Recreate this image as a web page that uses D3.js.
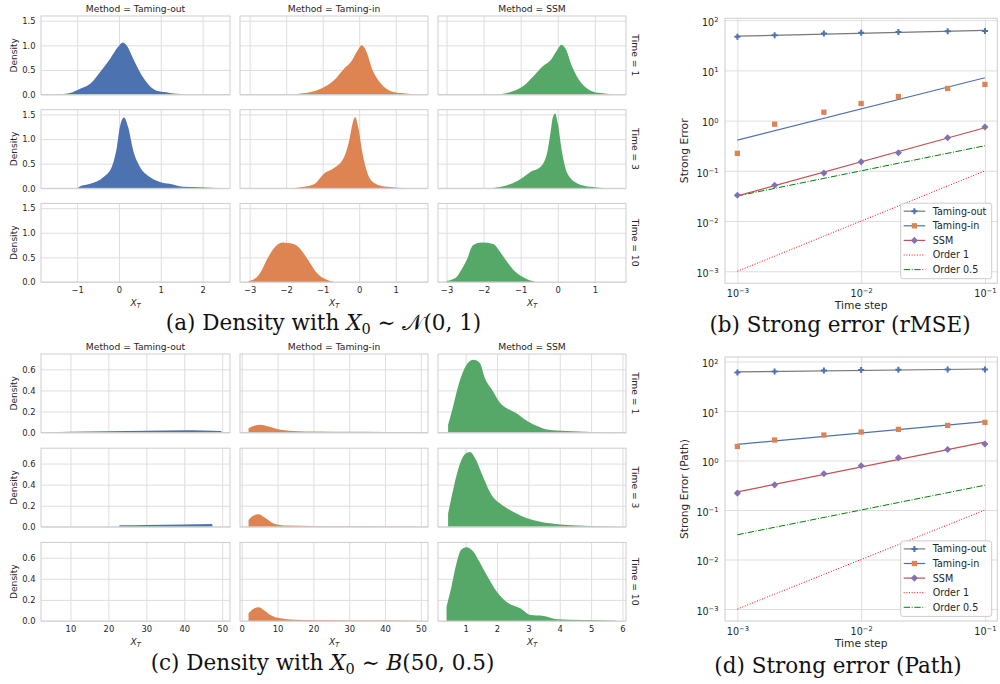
<!DOCTYPE html>
<html>
<head>
<meta charset="utf-8">
<script src="https://cdn.jsdelivr.net/npm/d3@7"></script>
<style>
  body { margin: 0; background: #fff; }
  svg { display: block; }
</style>
</head>
<body>
<svg id="fig" width="1000" height="684"></svg>
<script>
// ---------------------------------------------------------------------------
// Facet labels
const methods = ["Taming-out", "Taming-in", "SSM"];
const times = [1, 3, 10];
const methodColors = ["#4c72b0", "#dd8452", "#55a868"];

// Density of X_T with X_0 ~ N(0,1): [x, density] pairs per method and time
const normOutT1 = [[-1.66,0],[-1.4,0.01],[-1.17,0.035],[-0.93,0.12],[-0.69,0.22],[-0.45,0.46],[-0.21,0.73],[-0.02,0.97],[0.09,1.06],[0.18,1.0],[0.34,0.73],[0.5,0.46],[0.66,0.25],[0.9,0.08],[1.13,0.05],[1.37,0.015],[1.81,0]];
const normOutT3 = [[-0.98,0],[-0.95,0.03],[-0.69,0.09],[-0.37,0.23],[-0.17,0.44],[-0.05,0.84],[0.02,1.24],[0.12,1.44],[0.22,1.24],[0.34,0.77],[0.5,0.44],[0.74,0.23],[0.98,0.13],[1.21,0.09],[1.53,0.03],[1.93,0.02],[2.45,0]];
const normOutT10 = [];
const normInT1 = [[-1.8,0],[-1.6,0.02],[-1.05,0.12],[-0.69,0.29],[-0.41,0.53],[-0.23,0.66],[-0.04,0.9],[0.07,1.0],[0.18,0.9],[0.37,0.49],[0.6,0.22],[0.87,0.07],[1.15,0.03],[1.65,0]];
const normInT3 = [[-1.83,0],[-1.6,0.02],[-1.24,0.08],[-0.96,0.3],[-0.69,0.41],[-0.41,0.64],[-0.27,0.98],[-0.18,1.32],[-0.11,1.45],[-0.03,1.25],[0.09,0.71],[0.23,0.3],[0.41,0.11],[0.78,0.03],[1.33,0]];
const normInT10 = [[-3.03,0.02],[-2.85,0.07],[-2.7,0.2],[-2.55,0.42],[-2.4,0.62],[-2.25,0.75],[-2.1,0.8],[-1.95,0.79],[-1.8,0.77],[-1.65,0.7],[-1.5,0.56],[-1.35,0.39],[-1.2,0.22],[-1.05,0.11],[-0.9,0.05],[-0.7,0]];
const normSsmT1 = [[-1.74,0],[-1.29,0.05],[-0.92,0.18],[-0.65,0.38],[-0.38,0.59],[-0.2,0.69],[-0.02,0.9],[0.1,1.01],[0.21,0.93],[0.39,0.56],[0.62,0.25],[0.89,0.08],[1.16,0.03],[1.61,0]];
const normSsmT3 = [[-1.78,0],[-1.29,0.08],[-0.92,0.23],[-0.74,0.33],[-0.47,0.43],[-0.29,0.71],[-0.2,1.11],[-0.13,1.45],[-0.07,1.52],[0.0,1.32],[0.12,0.71],[0.26,0.3],[0.53,0.1],[0.89,0.03],[1.34,0]];
const normSsmT10 = [[-3.0,0.02],[-2.85,0.05],[-2.73,0.1],[-2.6,0.25],[-2.46,0.44],[-2.28,0.75],[-2.05,0.8],[-1.74,0.77],[-1.6,0.66],[-1.47,0.52],[-1.2,0.25],[-0.92,0.09],[-0.6,0]];

// Density of X_T with X_0 ~ B(50, 0.5)
const binOutT1 = [[4.5,0.004],[10,0.008],[20,0.013],[30,0.018],[40,0.022],[45,0.02],[49.8,0.014]];
const binOutT3 = [[22.9,0.014],[30,0.018],[40,0.023],[47.4,0.027]];
const binOutT10 = [];
const binInT1 = [[1.9,0.042],[3.5,0.066],[5.2,0.074],[7.5,0.058],[9.9,0.033],[12,0.022],[14.5,0.016],[21,0.01],[30,0.007],[40,0.005],[49.6,0.004]];
const binInT3 = [[1.9,0.064],[3.2,0.105],[4.7,0.118],[6.5,0.085],[8.9,0.032],[12.7,0.012],[20,0.007],[30,0.005],[40,0.004],[49,0.003]];
const binInT10 = [[1.9,0.073],[3.2,0.115],[4.7,0.13],[6.3,0.1],[8,0.057],[10.8,0.026],[16.4,0.01],[25,0.006],[35,0.004],[49,0.003]];
const binSsmT1 = [[0.44,0.074],[0.6,0.25],[0.76,0.44],[0.95,0.6],[1.1,0.67],[1.25,0.69],[1.45,0.66],[1.62,0.51],[1.83,0.41],[2.1,0.28],[2.31,0.23],[2.58,0.19],[2.96,0.11],[3.3,0.06],[3.6,0.03],[4.24,0.015],[5.0,0.006],[5.84,0]];
const binSsmT3 = [[0.44,0.127],[0.6,0.35],[0.82,0.6],[0.98,0.69],[1.14,0.71],[1.3,0.65],[1.56,0.47],[1.83,0.3],[2.1,0.22],[2.53,0.14],[2.96,0.08],[3.38,0.048],[4.02,0.023],[4.77,0.01],[5.79,0.003]];
const binSsmT10 = [[0.39,0.136],[0.55,0.33],[0.71,0.55],[0.87,0.68],[1.03,0.7],[1.24,0.66],[1.46,0.55],[1.72,0.41],[1.99,0.28],[2.31,0.18],[2.74,0.12],[3.06,0.057],[3.49,0.048],[3.92,0.016],[4.77,0.01],[5.79,0.003]];

// Tick values
const normXTicks = [[-1, 0, 1, 2], [-3, -2, -1, 0, 1], [-3, -2, -1, 0, 1]];
const normYTicks = [0, 0.5, 1.0, 1.5];
const binXTicks = [[10, 20, 30, 40, 50], [0, 10, 20, 30, 40, 50], [1, 2, 3, 4, 5, 6]];
const binYTicks = [0, 0.2, 0.4, 0.6];
const logXTicks = [1e-3, 1e-2, 1e-1];
const logYTicks = [1e-3, 1e-2, 1e-1, 1e0, 1e1, 1e2];

// Strong error against time step
const timeSteps = [0.001, 0.002, 0.005, 0.01, 0.02, 0.05, 0.1];
const rmseTamingOut = [46.6, 50, 54, 56, 58.5, 60, 61];
const rmseTamingIn = [0.223, 0.85, 1.47, 2.19, 3.02, 4.37, 5.25];
const rmseSSM = [0.0327, 0.0518, 0.09, 0.151, 0.229, 0.457, 0.748];
const pathTamingOut = [60, 63, 66, 67, 68, 69, 69];
const pathTamingIn = [1.92, 2.59, 3.27, 3.76, 4.25, 5.12, 5.88];
const pathSSM = [0.219, 0.322, 0.538, 0.78, 1.13, 1.67, 2.15];
const order1 = [0.001, 0.002, 0.005, 0.01, 0.02, 0.05, 0.1];
const order05 = [0.0316, 0.0447, 0.0707, 0.1, 0.1414, 0.2236, 0.3162];

// ---------------------------------------------------------------------------
const svg = d3.select("#fig");
const SANS = '"DejaVu Sans", sans-serif';
const SERIF = '"DejaVu Serif", serif';
const GRID = "#dedede", SPINE = "#cdcdcd", INK = "#262626";
svg.append("rect").attr("width", 1000).attr("height", 684).attr("fill", "#fff");

function styleAxis(g, size) {
  g.attr("font-family", SANS).attr("font-size", size);
  g.select(".domain").remove();
  g.selectAll(".tick line").attr("stroke", GRID).attr("stroke-width", 1);
  g.selectAll(".tick text").attr("fill", INK);
}

// Grid of filled density curves: rows = time, columns = method
function facetPanel(cfg) {
  const { grid, rowTops, rowH, colX, xTicks, yTicks, yFmt } = cfg;
  const yMax = d3.max(grid.flat(), c => (c.length ? d3.max(c, d => d[1]) : 0)) * 1.05;
  const nRows = rowTops.length;
  colX.forEach(([x0, x1], j) => {
    const pts = grid.flatMap(r => r[j]);
    const [lo, hi] = d3.extent(pts, d => d[0]);
    const pad = (hi - lo) * 0.05;
    const x = d3.scaleLinear().domain([lo - pad, hi + pad]).range([x0, x1]);
    rowTops.forEach((top, i) => {
      const bottom = top + rowH;
      const y = d3.scaleLinear().domain([0, yMax]).range([bottom, top]);
      const cell = svg.append("g");
      const last = i === nRows - 1;

      const gx = cell.append("g").attr("transform", `translate(0,${bottom})`)
        .call(d3.axisBottom(x).tickValues(xTicks[j]).tickSize(-rowH).tickPadding(5.5)
          .tickFormat(last ? d3.format("") : () => ""));
      styleAxis(gx, 8.4);

      const gy = cell.append("g").attr("transform", `translate(${x0},0)`)
        .call(d3.axisLeft(y).tickValues(yTicks).tickSize(-(x1 - x0)).tickPadding(5.5)
          .tickFormat(j === 0 ? d3.format(yFmt) : () => ""));
      styleAxis(gy, 8.4);

      const data = grid[i][j];
      if (data.length) {
        const area = d3.area().x(d => x(d[0])).y0(y(0)).y1(d => y(d[1])).curve(d3.curveMonotoneX);
        cell.append("path").attr("d", area(data)).attr("fill", methodColors[j]);
      }

      cell.append("rect").attr("x", x0).attr("y", top).attr("width", x1 - x0).attr("height", rowH)
        .attr("fill", "none").attr("stroke", SPINE).attr("stroke-width", 1);

      if (i === 0) {
        cell.append("text").attr("x", (x0 + x1) / 2).attr("y", top - 4.3)
          .attr("text-anchor", "middle").attr("font-family", SANS).attr("font-size", 9.2)
          .attr("fill", INK).text(`Method = ${methods[j]}`);
      }
      if (j === colX.length - 1) {
        cell.append("text").attr("transform", `translate(${x1 + 5.5},${(top + bottom) / 2}) rotate(90)`)
          .attr("text-anchor", "middle").attr("font-family", SANS).attr("font-size", 9.2)
          .attr("fill", INK).text(`Time = ${times[i]}`);
      }
      if (j === 0) {
        cell.append("text").attr("transform", `translate(16.5,${(top + bottom) / 2}) rotate(-90)`)
          .attr("text-anchor", "middle").attr("font-family", SANS).attr("font-size", 9.1)
          .attr("fill", INK).text("Density");
      }
      if (last) {
        const lab = cell.append("text").attr("x", (x0 + x1) / 2).attr("y", bottom + 24)
          .attr("text-anchor", "middle").attr("font-family", SANS).attr("font-size", 9.1).attr("fill", INK);
        lab.append("tspan").attr("font-style", "italic").text("X");
        lab.append("tspan").attr("font-style", "italic").attr("font-size", 6.4).attr("dy", 2).text("T");
      }
    });
  });
}

function logFit(xs, ys) {
  const lx = xs.map(Math.log10), ly = ys.map(Math.log10);
  const mx = d3.mean(lx), my = d3.mean(ly);
  const b = d3.sum(lx, (v, i) => (v - mx) * (ly[i] - my)) / d3.sum(lx, v => (v - mx) ** 2);
  return v => 10 ** (my + b * (Math.log10(v) - mx));
}

function powerLabel(sel) {
  sel.each(function (d) {
    const e = Math.round(Math.log10(d));
    const t = d3.select(this).text(null);
    t.append("tspan").text("10");
    t.append("tspan").attr("font-size", "0.7em").attr("dy", "-0.55em")
      .text(d3.format("")(e));
  });
}

// Log-log strong error panel
function errorPanel(cfg) {
  const { left, right, top, bottom, series, ylabel } = cfg;
  const W = right - left, H = bottom - top;
  const fits = series.map(s => logFit(timeSteps, s.values));
  const ends = d3.extent(timeSteps);
  const allY = [
    ...series.flatMap(s => s.values),
    ...fits.flatMap(f => ends.map(f)),
    ...order1, ...order05
  ];
  const padLog = ([a, b]) => {
    const la = Math.log10(a), lb = Math.log10(b), p = (lb - la) * 0.05;
    return [10 ** (la - p), 10 ** (lb + p)];
  };
  const x = d3.scaleLog().domain(padLog(ends)).range([left, right]);
  const y = d3.scaleLog().domain(padLog(d3.extent(allY))).range([bottom, top]);
  const g = svg.append("g");

  const gx = g.append("g").attr("transform", `translate(0,${bottom})`)
    .call(d3.axisBottom(x).tickValues(logXTicks).tickSize(-H).tickPadding(3));
  styleAxis(gx, 9.6);
  gx.selectAll(".tick text").attr("dy", "1.12em").call(powerLabel);

  const gy = g.append("g").attr("transform", `translate(${left},0)`)
    .call(d3.axisLeft(y).tickValues(logYTicks).tickSize(-W).tickPadding(6.5));
  styleAxis(gy, 9.6);
  gy.selectAll(".tick text").attr("dy", "0.55em").call(powerLabel);

  g.append("rect").attr("x", left).attr("y", top).attr("width", W).attr("height", H)
    .attr("fill", "none").attr("stroke", SPINE).attr("stroke-width", 1);

  const line = d3.line().x(d => x(d[0])).y(d => y(d[1]));
  // reference slopes
  g.append("path").attr("d", line(d3.zip(timeSteps, order1))).attr("fill", "none")
    .attr("stroke", "#ff0000").attr("stroke-width", 1).attr("stroke-dasharray", "1,1.65");
  g.append("path").attr("d", line(d3.zip(timeSteps, order05))).attr("fill", "none")
    .attr("stroke", "#008000").attr("stroke-width", 1).attr("stroke-dasharray", "6.4,1.6,1,1.6");
  // fitted lines then markers
  series.forEach((s, k) => {
    g.append("path").attr("d", line(ends.map(v => [v, fits[k](v)]))).attr("fill", "none")
      .attr("stroke", s.lineColor).attr("stroke-width", 1.2);
  });
  series.forEach(s => {
    g.selectAll(null).data(d3.zip(timeSteps, s.values)).join("path")
      .attr("transform", d => `translate(${x(d[0])},${y(d[1])}) rotate(${s.rot})`)
      .attr("d", d3.symbol(s.symbol, s.size)()).attr("fill", s.color);
  });

  // axis labels
  g.append("text").attr("x", (left + right) / 2).attr("y", bottom + 26).attr("text-anchor", "middle")
    .attr("font-family", SANS).attr("font-size", 10.7).attr("fill", INK).text("Time step");
  g.append("text").attr("transform", `translate(${left - 37},${(top + bottom) / 2}) rotate(-90)`)
    .attr("text-anchor", "middle").attr("font-family", SANS).attr("font-size", 10.7)
    .attr("fill", INK).text(ylabel);

  // legend
  const lw = 91, lh = 75.5;
  const lx0 = right - 5.6 - lw, ly0 = bottom - 4.6 - lh;
  const lg = g.append("g").attr("transform", `translate(${lx0},${ly0})`);
  lg.append("rect").attr("width", lw).attr("height", lh).attr("rx", 2.5)
    .attr("fill", "#fff").attr("fill-opacity", 0.8).attr("stroke", "#cccccc").attr("stroke-width", 1);
  const items = [
    ...series.map(s => ({ label: s.name, stroke: s.lineColor, dash: null, s })),
    { label: "Order 1", stroke: "#ff0000", dash: "1,1.65" },
    { label: "Order 0.5", stroke: "#008000", dash: "6.4,1.6,1,1.6" }
  ];
  items.forEach((it, k) => {
    const cy = 8 + k * 14.6;
    lg.append("line").attr("x1", 3).attr("x2", 24.5).attr("y1", cy).attr("y2", cy)
      .attr("stroke", it.stroke).attr("stroke-width", it.s ? 1.2 : 1)
      .attr("stroke-dasharray", it.dash);
    if (it.s) {
      lg.append("path").attr("transform", `translate(13.7,${cy}) rotate(${it.s.rot})`)
        .attr("d", d3.symbol(it.s.symbol, it.s.size)()).attr("fill", it.s.color);
    }
    lg.append("text").attr("x", 32).attr("y", cy).attr("dy", "0.36em")
      .attr("font-family", SANS).attr("font-size", 9.6).attr("fill", INK).text(it.label);
  });
}

function caption(cx, cy, parts) {
  const t = svg.append("text").attr("x", cx).attr("y", cy).attr("text-anchor", "middle")
    .attr("font-family", SERIF).attr("font-size", 21.5).attr("fill", "#111");
  parts.forEach(p => {
    const s = t.append("tspan").text(p.text);
    if (p.italic) s.attr("font-style", "italic");
    if (p.size) s.attr("font-size", p.size);
    if (p.dy) s.attr("dy", p.dy);
    if (p.family) s.attr("font-family", p.family);
  });
}

// (a) X_0 ~ N(0,1)
facetPanel({
  grid: [[normOutT1, normInT1, normSsmT1], [normOutT3, normInT3, normSsmT3], [normOutT10, normInT10, normSsmT10]],
  rowTops: [16, 109.7, 203.4], rowH: 78.6,
  colX: [[41, 230], [240, 428], [438, 626]],
  xTicks: normXTicks, yTicks: normYTicks, yFmt: ".1f"
});

// (c) X_0 ~ B(50, 0.5)
facetPanel({
  grid: [[binOutT1, binInT1, binSsmT1], [binOutT3, binInT3, binSsmT3], [binOutT10, binInT10, binSsmT10]],
  rowTops: [354, 448.2, 542.4], rowH: 78.6,
  colX: [[41, 230], [240, 428], [438, 626]],
  xTicks: binXTicks, yTicks: binYTicks, yFmt: ".1f"
});

const markerStyles = [
  { name: "Taming-out", color: "#4c72b0", lineColor: "#777777", symbol: d3.symbolCross, size: 20, rot: 0 },
  { name: "Taming-in", color: "#dd8452", lineColor: "#4c72b0", symbol: d3.symbolSquare, size: 28, rot: 0 },
  { name: "SSM", color: "#8172b3", lineColor: "#c44e52", symbol: d3.symbolSquare, size: 25, rot: 45 }
];

// (b) rMSE
errorPanel({
  left: 725, right: 997.3, top: 18.3, bottom: 283.3, ylabel: "Strong Error",
  series: [rmseTamingOut, rmseTamingIn, rmseSSM].map((v, k) => ({ ...markerStyles[k], values: v }))
});

// (d) path-wise error
errorPanel({
  left: 725, right: 997.3, top: 357, bottom: 621, ylabel: "Strong Error (Path)",
  series: [pathTamingOut, pathTamingIn, pathSSM].map((v, k) => ({ ...markerStyles[k], values: v }))
});

// sub-figure captions
caption(323.5, 330, [
  { text: "(a) Density with " }, { text: "X", italic: true },
  { text: "0", size: 14.5, dy: 4 }, { text: " ∼ ", dy: -4 },
  { text: "𝒩", family: '"DejaVu Sans", "Noto Sans", serif' }, { text: "(0, 1)" }
]);
caption(840, 332, [{ text: "(b) Strong error (rMSE)" }]);
caption(322.5, 669.5, [
  { text: "(c) Density with " }, { text: "X", italic: true },
  { text: "0", size: 14.5, dy: 4 }, { text: " ∼ ", dy: -4 },
  { text: "B", italic: true }, { text: "(50, 0.5)" }
]);
caption(838, 673, [{ text: "(d) Strong error (Path)" }]);
</script>
</body>
</html>
